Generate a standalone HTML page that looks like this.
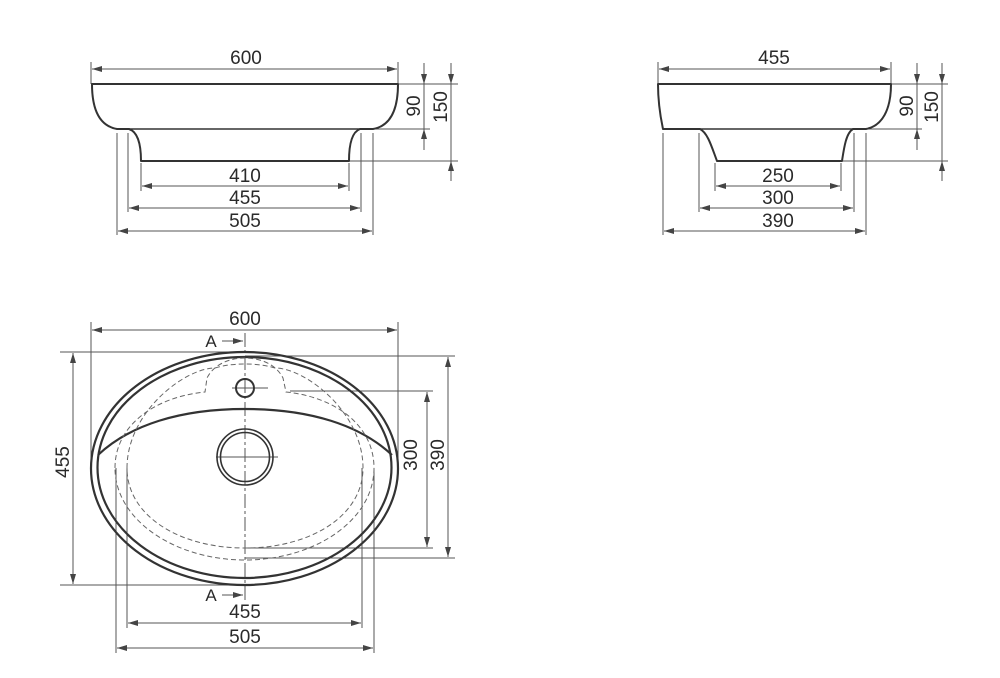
<!DOCTYPE html>
<html><head><meta charset="utf-8"><style>
html,body{margin:0;padding:0;background:#fff}
svg{display:block}
text{font-family:"Liberation Sans",Arial,sans-serif;font-size:19px;fill:#2a2a2a}
</style></head><body>
<svg width="1000" height="678" viewBox="0 0 1000 678" xmlns="http://www.w3.org/2000/svg">
<defs>
<marker id="a" viewBox="0 0 10 6" refX="10" refY="3" markerWidth="10" markerHeight="6" orient="auto-start-reverse" markerUnits="userSpaceOnUse"><path d="M0,0 L10,3 L0,6 z" fill="#444"/></marker>
</defs>
<g fill="none" stroke="#555" stroke-width="1">
<line x1="91" y1="62" x2="91" y2="84"/><line x1="398" y1="62" x2="398" y2="84"/>
<line x1="92" y1="69" x2="397" y2="69" marker-start="url(#a)" marker-end="url(#a)"/>
<line x1="117" y1="133" x2="117" y2="235"/><line x1="373" y1="133" x2="373" y2="235"/>
<line x1="128" y1="133" x2="128" y2="212"/><line x1="361" y1="133" x2="361" y2="212"/>
<line x1="141" y1="163" x2="141" y2="191"/><line x1="349" y1="163" x2="349" y2="191"/>
<line x1="142" y1="186" x2="348" y2="186" marker-start="url(#a)" marker-end="url(#a)"/>
<line x1="129" y1="208" x2="360" y2="208" marker-start="url(#a)" marker-end="url(#a)"/>
<line x1="118" y1="231" x2="372" y2="231" marker-start="url(#a)" marker-end="url(#a)"/>
<line x1="398" y1="84" x2="458" y2="84"/><line x1="373" y1="129" x2="430" y2="129"/><line x1="349" y1="161" x2="458" y2="161"/>
<line x1="424" y1="63" x2="424" y2="84" marker-end="url(#a)"/><line x1="424" y1="150" x2="424" y2="129" marker-end="url(#a)"/>
<line x1="424" y1="84" x2="424" y2="129"/>
<line x1="451" y1="63" x2="451" y2="84" marker-end="url(#a)"/><line x1="451" y1="181" x2="451" y2="161" marker-end="url(#a)"/>
<line x1="451" y1="84" x2="451" y2="161"/>
<line x1="658" y1="62" x2="658" y2="84"/><line x1="891" y1="62" x2="891" y2="84"/>
<line x1="659" y1="69" x2="890" y2="69" marker-start="url(#a)" marker-end="url(#a)"/>
<line x1="663" y1="133" x2="663" y2="235"/><line x1="866" y1="133" x2="866" y2="235"/>
<line x1="699" y1="133" x2="699" y2="212"/><line x1="854" y1="133" x2="854" y2="212"/>
<line x1="715" y1="163" x2="715" y2="191"/><line x1="841" y1="163" x2="841" y2="191"/>
<line x1="716" y1="186" x2="840" y2="186" marker-start="url(#a)" marker-end="url(#a)"/>
<line x1="700" y1="208" x2="853" y2="208" marker-start="url(#a)" marker-end="url(#a)"/>
<line x1="664" y1="231" x2="865" y2="231" marker-start="url(#a)" marker-end="url(#a)"/>
<line x1="891" y1="84" x2="948" y2="84"/><line x1="866" y1="129" x2="922" y2="129"/><line x1="842" y1="161" x2="948" y2="161"/>
<line x1="917" y1="63" x2="917" y2="84" marker-end="url(#a)"/><line x1="917" y1="150" x2="917" y2="129" marker-end="url(#a)"/>
<line x1="917" y1="84" x2="917" y2="129"/>
<line x1="942" y1="63" x2="942" y2="84" marker-end="url(#a)"/><line x1="942" y1="181" x2="942" y2="161" marker-end="url(#a)"/>
<line x1="942" y1="84" x2="942" y2="161"/>
<line x1="91" y1="322" x2="91" y2="468"/><line x1="398" y1="322" x2="398" y2="468"/>
<line x1="92" y1="330" x2="397" y2="330" marker-start="url(#a)" marker-end="url(#a)"/>
<line x1="60" y1="352" x2="245" y2="352"/><line x1="60" y1="585" x2="245" y2="585"/>
<line x1="73" y1="353" x2="73" y2="584" marker-start="url(#a)" marker-end="url(#a)"/>
<line x1="245" y1="356" x2="455" y2="356"/><line x1="245" y1="558" x2="455" y2="558"/>
<line x1="448" y1="357" x2="448" y2="557" marker-start="url(#a)" marker-end="url(#a)"/>
<line x1="290" y1="391" x2="433" y2="391"/><line x1="245" y1="548" x2="433" y2="548"/>
<line x1="427" y1="392" x2="427" y2="547" marker-start="url(#a)" marker-end="url(#a)"/>
<line x1="127" y1="468" x2="127" y2="628"/><line x1="362" y1="468" x2="362" y2="628"/>
<line x1="116" y1="468" x2="116" y2="653"/><line x1="374" y1="468" x2="374" y2="653"/>
<line x1="128" y1="623" x2="361" y2="623" marker-start="url(#a)" marker-end="url(#a)"/>
<line x1="117" y1="648" x2="373" y2="648" marker-start="url(#a)" marker-end="url(#a)"/>
<line x1="222" y1="341" x2="243" y2="341" marker-end="url(#a)"/>
<line x1="222" y1="595" x2="243" y2="595" marker-end="url(#a)"/>
<line x1="245" y1="333" x2="245" y2="602" stroke-dasharray="14 3 3 3"/>
<line x1="232" y1="388" x2="268" y2="388"/>
<line x1="216" y1="457" x2="278" y2="457"/>
</g>
<g fill="none" stroke="#333" stroke-width="2">
<path d="M92,84 L398,84 C398,110 390,126 373,129 L360,129 C352,132 349,145 349,161 L141,161 C141,145 138,132 129,129 L117,129 C100,126 92,110 92,84 Z" stroke-linejoin="round"/>
<line x1="117" y1="129" x2="373" y2="129" stroke-width="1.5"/>
<path d="M658,84 L891,84 C891,110 882,126 866,129 L853,129 C846,133 844,148 842,161 L717,161 C712,148 708,133 700,129 L663,129 C660,115 658,100 658,84 Z" stroke-linejoin="round"/>
<line x1="663" y1="129" x2="866" y2="129" stroke-width="1.5"/>
<ellipse cx="244.5" cy="468.5" rx="153.5" ry="116.5" stroke-width="2.2"/>
<ellipse cx="244.5" cy="467.5" rx="147" ry="110.5" stroke-width="2.2"/>
<path d="M98,455 C130,425 180,409 245,409 C310,409 360,425 392,455" stroke-width="2.2"/>
<circle cx="245" cy="388" r="9"/>
<circle cx="245" cy="457" r="28" stroke-width="1.6"/>
<circle cx="245" cy="457" r="24.5" stroke-width="1.6"/>
</g>
<g fill="none" stroke="#666" stroke-width="1" stroke-dasharray="5 3">
<path d="M115,468 C115,425 155,397 205,392 L207,378 C214,364 230,358 245,358 C260,358 276,364 283,378 L286,392 C335,397 374,425 374,468 C374,520 315,560 245,560 C175,560 115,520 115,468 Z"/>
<path d="M127,468 C127,412 185,368 215,368 C225,365 235,364 245,364 C255,364 265,365 275,368 C305,368 363,412 363,468 C363,515 312,548 245,548 C178,548 127,515 127,468 Z"/>
</g>
<g text-anchor="middle">
<text x="246" y="64">600</text>
<text x="245" y="182">410</text>
<text x="245" y="204">455</text>
<text x="245" y="227">505</text>
<text transform="translate(420,106) rotate(-90)">90</text>
<text transform="translate(447,107) rotate(-90)">150</text>
<text x="774" y="64">455</text>
<text x="778" y="182">250</text>
<text x="778" y="204">300</text>
<text x="778" y="227">390</text>
<text transform="translate(913,106) rotate(-90)">90</text>
<text transform="translate(938,107) rotate(-90)">150</text>
<text x="245" y="325">600</text>
<text x="211" y="347" style="font-size:17px">A</text>
<text x="211" y="601" style="font-size:17px">A</text>
<text transform="translate(69,462) rotate(-90)">455</text>
<text transform="translate(417,455) rotate(-90)">300</text>
<text transform="translate(444,455) rotate(-90)">390</text>
<text x="245" y="618">455</text>
<text x="245" y="643">505</text>
</g>
</svg>
</body></html>
